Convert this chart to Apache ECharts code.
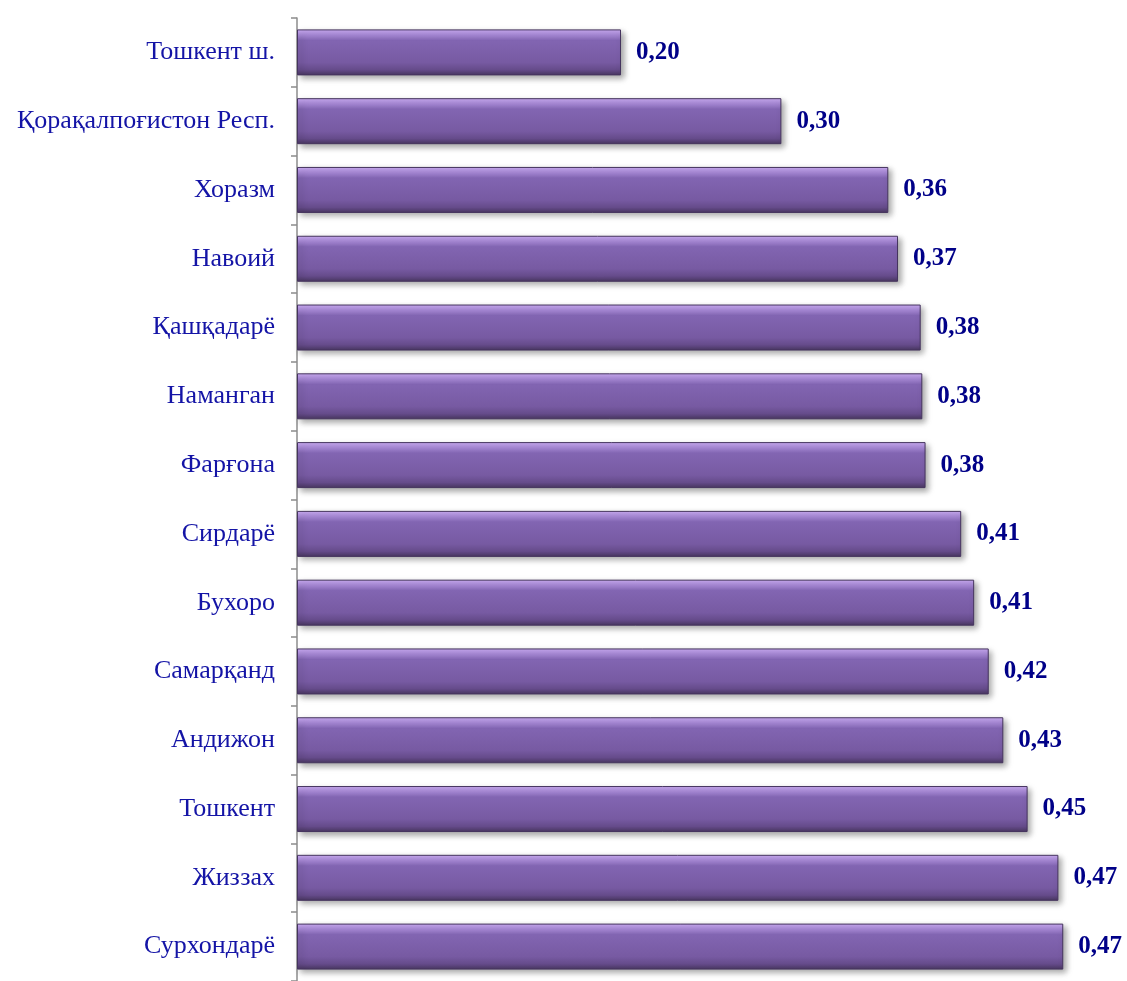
<!DOCTYPE html>
<html>
<head>
<meta charset="utf-8">
<script src="https://cdn.jsdelivr.net/npm/echarts@6/dist/echarts.min.js"></script>
<style>
  html, body { margin: 0; padding: 0; background: #fff; }
  #chart { width: 1127px; height: 981px; }
</style>
</head>
<body>
<div id="chart"></div>
<script>
// regions, top to bottom
const regions = ["Тошкент ш.", "Қорақалпоғистон Респ.", "Хоразм", "Навоий", "Қашқадарё", "Наманган", "Фарғона",
  "Сирдарё", "Бухоро", "Самарқанд", "Андижон", "Тошкент", "Жиззах", "Сурхондарё"];
// bar lengths
const values = [0.200, 0.299, 0.365, 0.371, 0.385, 0.386, 0.388, 0.410, 0.418, 0.427, 0.436, 0.451, 0.470, 0.473];
// printed labels
const valueLabels = ["0,20", "0,30", "0,36", "0,37", "0,38", "0,38", "0,38", "0,41", "0,41", "0,42", "0,43", "0,45", "0,47", "0,47"];

let myChart = echarts.init(document.getElementById("chart"));
myChart.setOption({
  animation: false,
  grid: {
    left: 297,
    top: 18,
    width: 810,
    height: 968,
  },
  xAxis: {
    type: "value",
    min: 0,
    max: 0.5,
    show: false,
  },
  yAxis: {
    type: "category",
    inverse: true,
    data: regions,
    axisLine: {
      lineStyle: { color: "#8c8c8c", width: 1.5 },
    },
    axisTick: {
      show: true,
      length: 6,
      lineStyle: { color: "#8c8c8c", width: 1.5 },
    },
    axisLabel: {
      margin: 22,
      color: "#1414a6",
      fontFamily: "Liberation Serif, Times New Roman, serif",
      fontSize: 26,
    },
  },
  series: [
    {
      type: "bar",
      data: values,
      barWidth: 46,
      itemStyle: {
        color: {
          type: "linear", x: 0, y: 0, x2: 0, y2: 1,
          colorStops: [
            { offset: 0, color: "#cdaef6" },
            { offset: 0.12, color: "#a98ad8" },
            { offset: 0.24, color: "#8265b2" },
            { offset: 0.72, color: "#775aa2" },
            { offset: 0.88, color: "#654b8a" },
            { offset: 1, color: "#48365f" },
          ],
        },
        borderColor: "#45345e",
        borderWidth: 1,
        shadowColor: "rgba(0,0,0,0.35)",
        shadowBlur: 6,
        shadowOffsetX: 3,
        shadowOffsetY: 3,
      },
      label: {
        show: true,
        position: "right",
        distance: 15,
        formatter: (p) => valueLabels[p.dataIndex],
        color: "#000088",
        fontFamily: "Liberation Serif, Times New Roman, serif",
        fontWeight: "bold",
        fontSize: 25,
      },
    },
  ],
});
</script>
</body>
</html>
